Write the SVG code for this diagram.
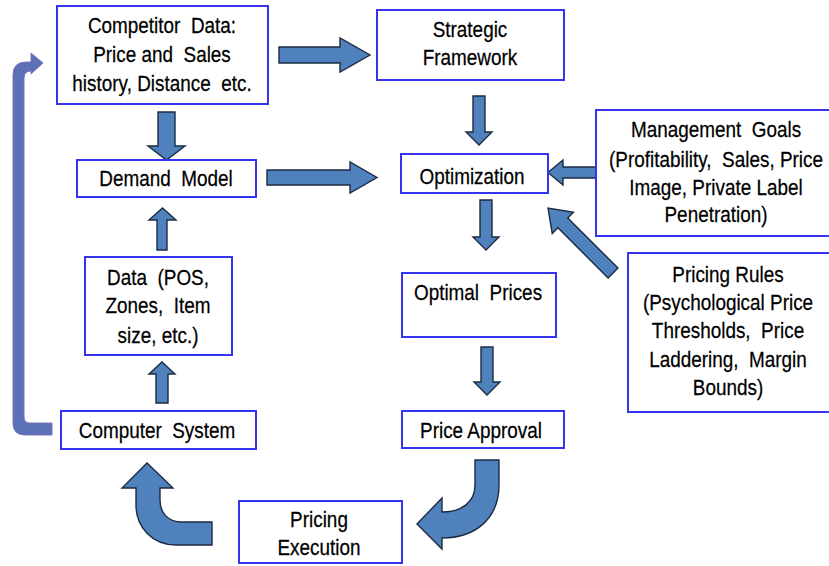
<svg xmlns="http://www.w3.org/2000/svg" width="829" height="566" viewBox="0 0 829 566">
  <style>
    .box { fill: #ffffff; stroke: #3535f0; stroke-width: 2; }
    .lbl { font-family: "Liberation Sans", Arial, sans-serif; font-size: 22px; fill: #000000; stroke: #000000; stroke-width: 0.25; text-anchor: middle; white-space: pre; }
    .blk { fill: #4f81bd; stroke: #1d2b42; stroke-width: 1.4; stroke-linejoin: miter; }
    .loop { fill: #5b70b6; stroke: #7d74b6; stroke-width: 1; }
  </style>
  <rect width="829" height="566" fill="#ffffff"/>

  <!-- connectors -->
  <g id="connectors">
    <!-- feedback loop: Computer System back up to Competitor Data -->
    <path class="loop" d="M 52 423 L 30 423 Q 24 423 24 417 L 24 78 Q 24 71 31 71 L 31 74 L 43 63 L 31 53 L 31 62 L 26 62 Q 13 62 13 75 L 13 423 Q 13 435 25 435 L 52 435 Z"/>
    <!-- Competitor Data -> Strategic Framework -->
    <polygon class="blk" points="279,47 340,47 340,38 370,55 340,72 340,63 279,63"/>
    <!-- Demand Model -> Optimization -->
    <polygon class="blk" points="267,170 350,170 350,162 377,177.5 350,193 350,185 267,185"/>
    <!-- Management Goals -> Optimization -->
    <polygon class="blk" points="596,167 563,167 563,160 548,172.5 563,185 563,178 596,178"/>
    <!-- Pricing Rules -> Optimization -->
    <polygon class="blk" transform="translate(548,208) rotate(225)" points="-92,-7 -21,-7 -21,-15 0,0 -21,15 -21,7 -92,7"/>
    <!-- Competitor Data -> Demand Model -->
    <polygon class="blk" points="158,112 175,112 175,146 185,146 166.5,160 148,146 158,146"/>
    <!-- Strategic Framework -> Optimization -->
    <polygon class="blk" points="473,96 485,96 485,132 492,132 479,145 466,132 473,132"/>
    <!-- Optimization -> Optimal Prices -->
    <polygon class="blk" points="480,200 492,200 492,237 499,237 486,250 473,237 480,237"/>
    <!-- Optimal Prices -> Price Approval -->
    <polygon class="blk" points="481,347 493,347 493,382 500,382 487,395 474,382 481,382"/>
    <!-- Data -> Demand Model -->
    <polygon class="blk" points="157,250 167,250 167,220 176,220 162.5,208 149,220 157,220"/>
    <!-- Computer System -> Data -->
    <polygon class="blk" points="156,403 168,403 168,374 175,374 162,362 149,374 156,374"/>
    <!-- Price Approval -> Pricing Execution (curved) -->
    <path class="blk" d="M 475 460 L 499 460 L 499 485 C 499 518 476 538 442 538 L 442 549 L 417 524 L 442 498 L 442 512 C 462 512 475 502 475 485 Z"/>
    <!-- Pricing Execution -> Computer System (curved) -->
    <path class="blk" d="M 212 522 L 212 545 L 176 545 C 152 545 136 527 136 505 L 136 488 L 122 488 L 147 463 L 173 488 L 160 488 L 160 500 C 160 513 168 522 182 522 Z"/>
  </g>

  <!-- nodes (labels are set in a condensed width: scaled 0.86 horizontally) -->
  <g id="competitor-data">
    <rect class="box" x="57" y="6" width="211" height="98"/>
    <text class="lbl" transform="translate(162 33) scale(0.86 1)">Competitor  Data:</text>
    <text class="lbl" transform="translate(162 62) scale(0.86 1)">Price and  Sales</text>
    <text class="lbl" transform="translate(162 91) scale(0.86 1)">history, Distance  etc.</text>
  </g>
  <g id="strategic-framework">
    <rect class="box" x="377" y="10" width="187" height="70"/>
    <text class="lbl" transform="translate(470 37) scale(0.86 1)">Strategic</text>
    <text class="lbl" transform="translate(470 65) scale(0.86 1)">Framework</text>
  </g>
  <g id="demand-model">
    <rect class="box" x="77" y="160" width="179" height="37"/>
    <text class="lbl" transform="translate(166 186) scale(0.86 1)">Demand  Model</text>
  </g>
  <g id="optimization">
    <rect class="box" x="401" y="154" width="147" height="39"/>
    <text class="lbl" transform="translate(472 184) scale(0.86 1)">Optimization</text>
  </g>
  <g id="management-goals">
    <rect class="box" x="596" y="110" width="240" height="126"/>
    <text class="lbl" transform="translate(716 137) scale(0.86 1)">Management  Goals</text>
    <text class="lbl" transform="translate(716 167) scale(0.86 1)">(Profitability,  Sales, Price</text>
    <text class="lbl" transform="translate(716 195) scale(0.86 1)">Image, Private Label</text>
    <text class="lbl" transform="translate(716 222) scale(0.86 1)">Penetration)</text>
  </g>
  <g id="pricing-rules">
    <rect class="box" x="628" y="253" width="208" height="159"/>
    <text class="lbl" transform="translate(728 282) scale(0.86 1)">Pricing Rules</text>
    <text class="lbl" transform="translate(728 310) scale(0.86 1)">(Psychological Price</text>
    <text class="lbl" transform="translate(728 338) scale(0.86 1)">Thresholds,  Price</text>
    <text class="lbl" transform="translate(728 367) scale(0.86 1)">Laddering,  Margin</text>
    <text class="lbl" transform="translate(728 395) scale(0.86 1)">Bounds)</text>
  </g>
  <g id="data">
    <rect class="box" x="85" y="257" width="147" height="98"/>
    <text class="lbl" transform="translate(158 285) scale(0.86 1)">Data  (POS,</text>
    <text class="lbl" transform="translate(158 313) scale(0.86 1)">Zones,  Item</text>
    <text class="lbl" transform="translate(158 343) scale(0.86 1)">size, etc.)</text>
  </g>
  <g id="optimal-prices">
    <rect class="box" x="402" y="273" width="154" height="64"/>
    <text class="lbl" transform="translate(478 300) scale(0.86 1)">Optimal  Prices</text>
  </g>
  <g id="computer-system">
    <rect class="box" x="61" y="411" width="195" height="38"/>
    <text class="lbl" transform="translate(157 438) scale(0.86 1)">Computer  System</text>
  </g>
  <g id="price-approval">
    <rect class="box" x="402" y="411" width="162" height="37"/>
    <text class="lbl" transform="translate(481 438) scale(0.86 1)">Price Approval</text>
  </g>
  <g id="pricing-execution">
    <rect class="box" x="239" y="501" width="163" height="62"/>
    <text class="lbl" transform="translate(319 527) scale(0.86 1)">Pricing</text>
    <text class="lbl" transform="translate(319 555) scale(0.86 1)">Execution</text>
  </g>
</svg>
